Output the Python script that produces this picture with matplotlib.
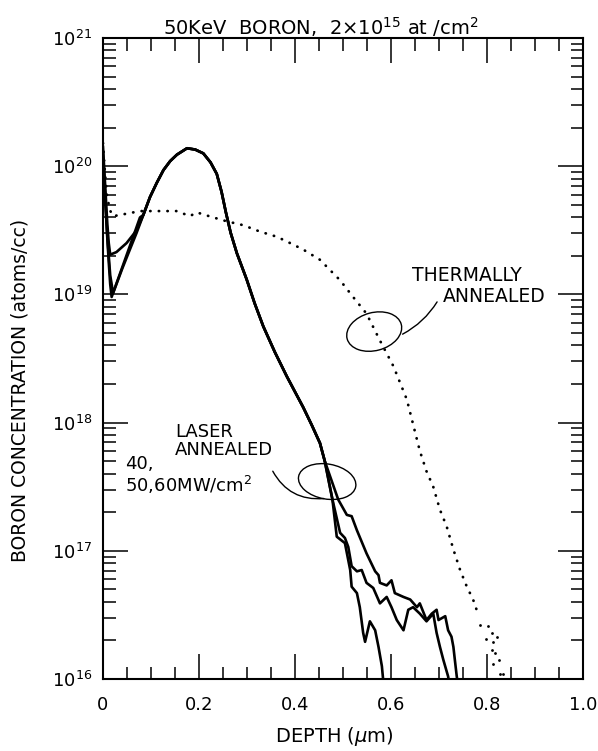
import numpy as np
import matplotlib
matplotlib.use("Agg")
from matplotlib import pyplot as plt
from matplotlib.patches import Ellipse
from matplotlib.transforms import ScaledTranslation
from matplotlib.ticker import MultipleLocator, LogLocator, NullFormatter

# ---- data (depth in um, log10 of concentration) ----
depth_common = [0.084, 0.098, 0.112, 0.126, 0.140, 0.154, 0.175, 0.192, 0.209,
                0.224, 0.237, 0.247, 0.256, 0.266, 0.279, 0.299, 0.316, 0.334,
                0.358, 0.383, 0.400, 0.417, 0.435, 0.452, 0.462]
logc_common = [19.62, 19.76, 19.87, 19.97, 20.04, 20.09, 20.14, 20.13, 20.10,
               20.03, 19.94, 19.80, 19.64, 19.48, 19.32, 19.12, 18.93, 18.75,
               18.55, 18.36, 18.24, 18.12, 17.98, 17.84, 17.70]

# surface part of each laser curve
head_a_x = [0.0, 0.003, 0.006, 0.009, 0.012, 0.015, 0.028, 0.049, 0.070]
head_a_y = [20.15, 19.95, 19.75, 19.55, 19.40, 19.31, 19.33, 19.40, 19.50]
head_b_x = [0.0, 0.004, 0.008, 0.012, 0.015, 0.018, 0.040, 0.060, 0.077]
head_b_y = [20.10, 19.80, 19.50, 19.25, 19.08, 18.98, 19.21, 19.42, 19.60]
head_c_x = [0.0, 0.005, 0.010, 0.015, 0.021, 0.040, 0.056, 0.070]
head_c_y = [20.00, 19.70, 19.40, 19.15, 19.01, 19.20, 19.35, 19.48]

# deep tails of the laser curves
tail_a_x = [0.490, 0.508, 0.518, 0.529, 0.549, 0.567, 0.574, 0.577, 0.591,
            0.601, 0.608, 0.626, 0.640, 0.654, 0.660, 0.674, 0.685, 0.695,
            0.699, 0.713, 0.719, 0.726, 0.730, 0.733, 0.737, 0.740]
tail_a_y = [17.40, 17.28, 17.27, 17.16, 16.98, 16.84, 16.81, 16.75, 16.73,
            16.77, 16.67, 16.64, 16.62, 16.56, 16.59, 16.46, 16.51, 16.54,
            16.46, 16.49, 16.38, 16.33, 16.25, 16.15, 16.02, 15.95]
tail_b_x = [0.478, 0.494, 0.504, 0.511, 0.518, 0.529, 0.539, 0.549, 0.563,
            0.577, 0.591, 0.601, 0.612, 0.626, 0.636, 0.646, 0.660, 0.674,
            0.688, 0.695, 0.702, 0.709, 0.719, 0.722]
tail_b_y = [17.40, 17.14, 17.10, 17.03, 16.88, 16.84, 16.85, 16.75, 16.71,
            16.59, 16.64, 16.56, 16.46, 16.38, 16.54, 16.56, 16.51, 16.45,
            16.51, 16.36, 16.25, 16.15, 16.02, 15.95]
tail_c_x = [0.478, 0.487, 0.504, 0.515, 0.518, 0.529, 0.535, 0.542, 0.546,
            0.556, 0.567, 0.574, 0.581, 0.584]
tail_c_y = [17.40, 17.11, 17.06, 16.85, 16.72, 16.67, 16.56, 16.36, 16.29,
            16.45, 16.38, 16.25, 16.10, 15.98]

# thermally annealed profile (dotted)
thermal_x = [0.0, 0.004, 0.008, 0.014, 0.021, 0.050, 0.077, 0.119, 0.154,
             0.181, 0.195, 0.230, 0.258, 0.292, 0.327, 0.362, 0.390, 0.417,
             0.452, 0.494, 0.521, 0.549, 0.577, 0.605, 0.633, 0.660, 0.674,
             0.688, 0.702, 0.716, 0.730, 0.744, 0.758, 0.771, 0.782]
thermal_y = [20.18, 19.95, 19.78, 19.66, 19.61, 19.63, 19.65, 19.65, 19.65,
             19.61, 19.64, 19.60, 19.57, 19.54, 19.49, 19.45, 19.40, 19.35,
             19.27, 19.11, 18.98, 18.85, 18.64, 18.44, 18.18, 17.78, 17.62,
             17.50, 17.32, 17.19, 17.01, 16.85, 16.72, 16.62, 16.50]
scatter_x = [0.785, 0.803, 0.810, 0.798, 0.813, 0.820, 0.810, 0.817, 0.824,
             0.813, 0.827, 0.834]
scatter_y = [16.42, 16.41, 16.36, 16.31, 16.29, 16.33, 16.23, 16.20, 16.15,
             16.12, 16.04, 16.04]

xtick_vals = [0.0, 0.2, 0.4, 0.6, 0.8, 1.0]
xtick_labels = ["0", "0.2", "0.4", "0.6", "0.8", "1.0"]

FS = 13

fig = plt.figure(figsize=(5.98, 7.51), dpi=100)
ax = fig.add_axes([103 / 598, 1 - 679 / 751, 480 / 598, 641 / 751])
ax.set_yscale("log")

for hx, hy, tx, ty in [(head_a_x, head_a_y, tail_a_x, tail_a_y),
                       (head_b_x, head_b_y, tail_b_x, tail_b_y),
                       (head_c_x, head_c_y, tail_c_x, tail_c_y)]:
    xs = np.array(hx + depth_common + tx)
    ys = np.array(hy + logc_common + ty)
    ax.plot(xs, 10 ** ys, color="black", lw=1.9, solid_joinstyle="round")

ax.plot(thermal_x, 10 ** np.array(thermal_y), color="black", lw=2.0,
        ls=(0, (0.1, 3.0)), dash_capstyle="round")
ax.scatter(scatter_x, 10 ** np.array(scatter_y), s=4, color="black", lw=0)

ax.set_xlim(0, 1)
ax.set_ylim(1e16, 1e21)
ax.set_xticks(xtick_vals, xtick_labels)
ax.xaxis.set_minor_locator(MultipleLocator(0.05))
ax.yaxis.set_major_locator(LogLocator(base=10))
ax.yaxis.set_minor_locator(LogLocator(base=10, subs=np.arange(2, 10)))
ax.yaxis.set_minor_formatter(NullFormatter())
ax.tick_params(which="both", direction="in", top=True, right=True,
               width=1.1, colors="black", labelsize=FS)
ax.tick_params(which="major", length=18)
ax.tick_params(which="minor", length=9)
ax.tick_params(axis="x", pad=12)
ax.tick_params(axis="y", pad=8)
for sp in ax.spines.values():
    sp.set_linewidth(1.5)

# ellipses around the curves, sized in inches
def ring(x, logy, w, h, ang):
    tr = fig.dpi_scale_trans + ScaledTranslation(x, 10 ** logy, ax.transData)
    ax.add_patch(Ellipse((0, 0), w, h, angle=ang, fill=False, lw=1.0,
                         color="black", transform=tr, clip_on=False))

ring(0.565, 18.71, 0.56, 0.38, 15)
ring(0.467, 17.54, 0.58, 0.35, -10)

ax.annotate("", xy=(0.619, 10 ** 18.68), xytext=(0.699, 10 ** 18.96),
            arrowprops=dict(arrowstyle="-", lw=1.0, color="black",
                            connectionstyle="arc3,rad=-0.15"))
ax.annotate("", xy=(0.466, 10 ** 17.41), xytext=(0.351, 10 ** 17.64),
            arrowprops=dict(arrowstyle="-", lw=1.0, color="black",
                            connectionstyle="arc3,rad=0.35"))

ax.text(0.644, 10 ** 19.15, "THERMALLY", fontsize=FS + 0.5, va="center", ha="left")
ax.text(0.708, 10 ** 18.98, "ANNEALED", fontsize=FS + 0.5, va="center", ha="left")
ax.text(0.150, 10 ** 17.93, "LASER", fontsize=FS, va="center", ha="left")
ax.text(0.150, 10 ** 17.79, "ANNEALED", fontsize=FS, va="center", ha="left")
ax.text(0.046, 10 ** 17.68, "40,", fontsize=FS, va="center", ha="left")
ax.text(0.046, 10 ** 17.51, "50,60MW/cm$^2$", fontsize=FS, va="center", ha="left")

fig.text(321 / 598, 1 - 27 / 751,
         "50KeV  BORON,  2$\\times$10$^{15}$ at /cm$^2$",
         fontsize=FS + 1, ha="center", va="center")
fig.text(334 / 598, 1 - 737 / 751, "DEPTH ($\\mu$m)", fontsize=FS + 1,
         ha="center", va="center")
fig.text(20 / 598, 1 - 390 / 751, "BORON CONCENTRATION (atoms/cc)",
         fontsize=FS + 0.5, rotation=90, ha="center", va="center")

fig.savefig("out.png", dpi=100)
